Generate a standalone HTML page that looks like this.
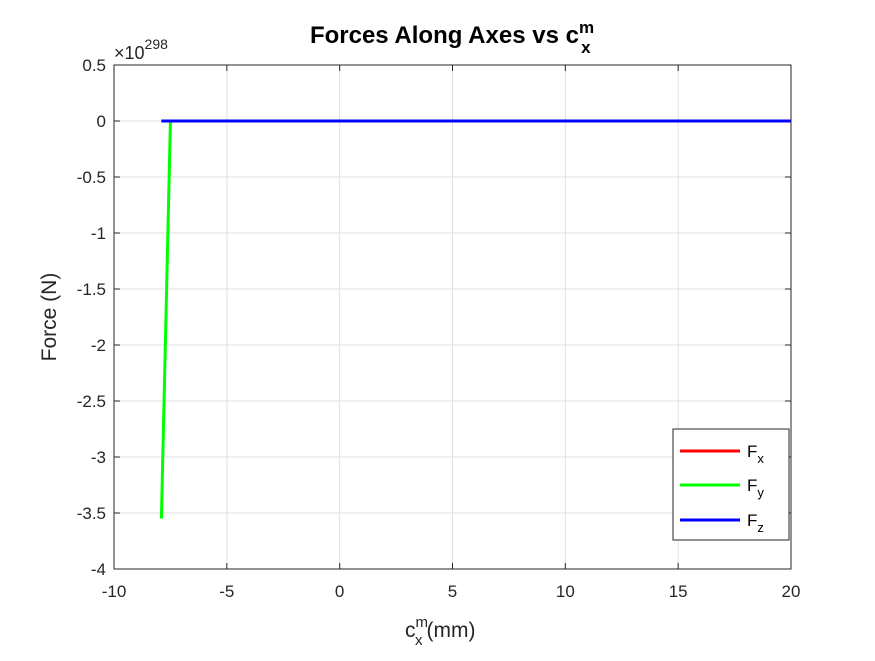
<!DOCTYPE html>
<html><head><meta charset="utf-8"><style>
body{margin:0;background:#fff;width:875px;height:656px;overflow:hidden;font-family:"Liberation Sans",Arial,sans-serif}
text{font-family:"Liberation Sans",Arial,sans-serif}
</style></head><body>
<svg id="chart" width="875" height="656" xmlns="http://www.w3.org/2000/svg">
<rect width="875" height="656" fill="#fff"/>
<g id="grid"></g>
<g id="ticks"></g>
<g id="series"></g>
<rect x="114" y="65" width="677" height="504" fill="none" stroke="#262626" stroke-width="1"/>
<text x="452" y="43" text-anchor="middle" font-size="24" font-weight="bold" fill="#000">Forces Along Axes vs c<tspan font-size="17" dy="-10">m</tspan><tspan font-size="17" dx="-13" dy="20">x</tspan></text>
<text x="114" y="59" font-size="18" fill="#262626">×10<tspan font-size="14" dy="-10">298</tspan></text>
<text x="56" y="317" font-size="21" fill="#262626" text-anchor="middle" transform="rotate(-90 56 317)">Force (N)</text>
<text x="405" y="637" font-size="21" fill="#262626">c<tspan font-size="15" dy="-10">m</tspan><tspan font-size="15" dx="-13" dy="18">x</tspan><tspan dy="-8" dx="4">(mm)</tspan></text>
<g>
<rect x="673" y="429" width="116" height="111" fill="#fff" stroke="#262626" stroke-width="1"/>
<line x1="680" y1="451" x2="740" y2="451" stroke="#ff0000" stroke-width="3"/>
<text x="747" y="457" font-size="17" fill="#000">F<tspan font-size="13" dy="6">x</tspan></text>
<line x1="680" y1="485" x2="740" y2="485" stroke="#00ff00" stroke-width="3"/>
<text x="747" y="491" font-size="17" fill="#000">F<tspan font-size="13" dy="6">y</tspan></text>
<line x1="680" y1="520" x2="740" y2="520" stroke="#0000ff" stroke-width="3"/>
<text x="747" y="526" font-size="17" fill="#000">F<tspan font-size="13" dy="6">z</tspan></text>
</g>
</svg>
<script>
const xTicks=[-10,-5,0,5,10,15,20];
const yTicks=[0.5,0,-0.5,-1,-1.5,-2,-2.5,-3,-3.5,-4];
const yTickLabels=["0.5","0","-0.5","-1","-1.5","-2","-2.5","-3","-3.5","-4"];
const fxX=[-7.9,-7.5,20];
const fxY=[0,0,0];
const fyX=[-7.9,-7.5,20];
const fyY=[-3.55,0,0];
const fzX=[-7.9,-7.5,20];
const fzY=[0,0,0];
const NS="http://www.w3.org/2000/svg";
const X0=114,X1=791,Y0=569,Y1=65;
function sx(v){return X0+(v-(-10))/(30)*(X1-X0);}
function sy(v){return Y0-(v-(-4))/(4.5)*(Y0-Y1);}
function mk(tag,attrs,parent){const e=document.createElementNS(NS,tag);for(const k in attrs)e.setAttribute(k,attrs[k]);parent.appendChild(e);return e;}
const grid=document.getElementById('grid'),ticks=document.getElementById('ticks'),series=document.getElementById('series');
xTicks.forEach(t=>{const x=sx(t);
 const g=mk('line',{x1:x,x2:x,y1:Y1,y2:Y0,stroke:'#dfdfdf','stroke-width':1},grid);
 
 
 mk('line',{x1:x,x2:x,y1:Y0,y2:Y0-6,stroke:'#262626'},ticks);
 mk('line',{x1:x,x2:x,y1:Y1,y2:Y1+6,stroke:'#262626'},ticks);
 const tx=mk('text',{x:x,y:Y0+28,'text-anchor':'middle','font-size':17,fill:'#262626'},ticks);
 tx.textContent=t;
 
 
});
yTicks.forEach((t,i)=>{const y=sy(t);
 const g=mk('line',{x1:X0,x2:X1,y1:y,y2:y,stroke:'#dfdfdf','stroke-width':1},grid);
 
 
 mk('line',{x1:X0,x2:X0+6,y1:y,y2:y,stroke:'#262626'},ticks);
 mk('line',{x1:X1,x2:X1-6,y1:y,y2:y,stroke:'#262626'},ticks);
 const tx=mk('text',{x:X0-8,y:y+6,'text-anchor':'end','font-size':17,fill:'#262626'},ticks);
 tx.textContent=yTickLabels[i];
 
 
});
function line(xs,ys,color,name){
 const p=mk('polyline',{points:xs.map((v,i)=>sx(v)+','+sy(ys[i])).join(' '),fill:'none',stroke:color,'stroke-width':3},series);
 
 
}
line(fxX,fxY,'#ff0000','fx-line');
line(fyX,fyY,'#00ff00','fy-line');
line(fzX,fzY,'#0000ff','fz-line');
</script>
</body></html>
